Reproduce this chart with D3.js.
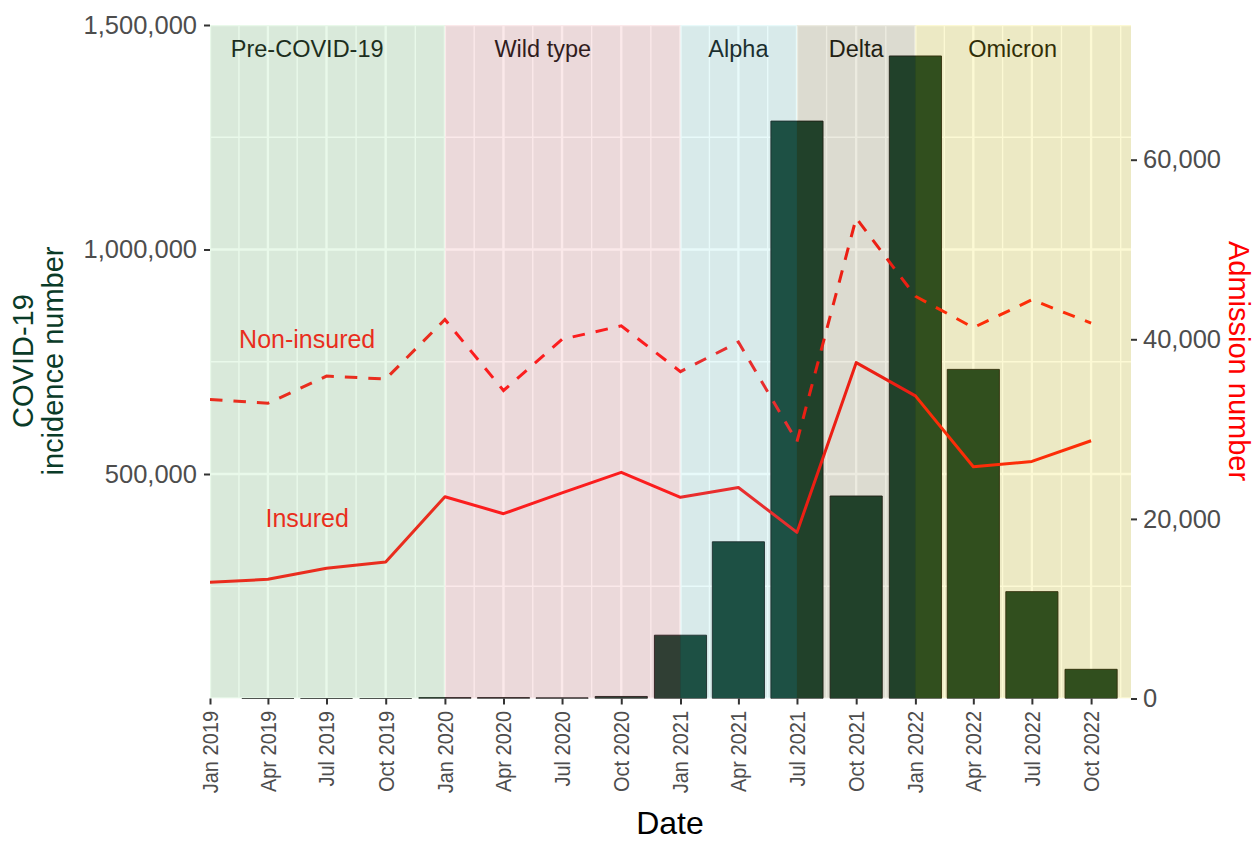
<!DOCTYPE html>
<html><head><meta charset="utf-8">
<script src="https://cdn.jsdelivr.net/npm/d3@7"></script>
<style>
body{margin:0;background:#fff}
text{font-family:"Liberation Sans",Arial,Helvetica,sans-serif}
</style>
</head><body>
<svg id="chart" width="1257" height="843"></svg>
<script>
// ---------- data ----------
const quarterDates = ["2019-01-01","2019-04-01","2019-07-01","2019-10-01","2020-01-01","2020-04-01","2020-07-01","2020-10-01",
  "2021-01-01","2021-04-01","2021-07-01","2021-10-01","2022-01-01","2022-04-01","2022-07-01","2022-10-01"];
const tickLabels = ["Jan 2019","Apr 2019","Jul 2019","Oct 2019","Jan 2020","Apr 2020","Jul 2020","Oct 2020",
  "Jan 2021","Apr 2021","Jul 2021","Oct 2021","Jan 2022","Apr 2022","Jul 2022","Oct 2022"];
// COVID-19 incidence number (left axis); first quarter falls outside the plotted range
const incidence = [null,0,0,0,2000,2000,1500,4500,141000,349000,1286000,451000,1431000,733000,238000,65000];
// Admission numbers (right axis)
const insured    = [12940,13270,14500,15200,22470,20580,22900,25190,22400,23500,18500,37400,33700,25800,26400,28700];
const nonInsured = [33300,32870,35900,35580,42200,34300,40000,41500,36400,39700,28600,53500,44800,41300,44400,41800];
// variant periods
const periodNames  = ["Pre-COVID-19","Wild type","Alpha","Delta","Omicron"];
const periodStarts = ["2019-01-01","2020-01-01","2021-01-01","2021-07-01","2022-01-01"];
const periodEnds   = ["2020-01-01","2021-01-01","2021-07-01","2022-01-01","2022-12-31"];
const periodLabelAt= ["2019-06-01","2020-06-01","2021-04-01","2021-10-01","2022-06-01"];
const periodColors = ["#91e196","#eb9196","#8ce6e6","#a09b64","#f0e128"];
const leftTicks  = [500000,1000000,1500000];
const rightTicks = [0,20000,40000,60000];
const seriesLabels = ["Insured","Non-insured"];
const seriesLabelAt = "2019-06-01";

// ---------- layout ----------
const parse = d3.timeParse("%Y-%m-%d");
const pl=210, pr=1131, pt=25, pb=698.5;
const svg = d3.select("#chart");
const x = d3.scaleTime().domain([parse("2019-01-01"), parse("2022-12-02")]).range([pl,pr]);
const y = d3.scaleLinear().domain([0,1500000]).range([pb,pt]);
const y2 = d3.scaleLinear().domain([0,75000]).range([pb,pt]);

svg.append("defs").append("clipPath").attr("id","panel")
  .append("rect").attr("x",pl).attr("y",pt).attr("width",pr-pl).attr("height",pb-pt);

const panel = svg.append("g").attr("clip-path","url(#panel)");
panel.append("rect").attr("x",pl).attr("y",pt).attr("width",pr-pl).attr("height",pb-pt).attr("fill","#ebebeb");

// grid
const qd = quarterDates.map(parse);
const ext = qd.concat([parse("2023-01-01")]);
const minorX = d3.range(ext.length-1).map(i => new Date((ext[i].getTime()+ext[i+1].getTime())/2));
panel.selectAll(".gxm").data(minorX).join("line")
  .attr("x1",d=>x(d)).attr("x2",d=>x(d)).attr("y1",pt).attr("y2",pb)
  .attr("stroke","#fff").attr("stroke-width",1.4);
panel.selectAll(".gxM").data(qd).join("line")
  .attr("x1",d=>x(d)).attr("x2",d=>x(d)).attr("y1",pt).attr("y2",pb)
  .attr("stroke","#fff").attr("stroke-width",2.4);
panel.selectAll(".gym").data([250000,750000,1250000]).join("line")
  .attr("x1",pl).attr("x2",pr).attr("y1",d=>y(d)).attr("y2",d=>y(d))
  .attr("stroke","#fff").attr("stroke-width",1.4);
panel.selectAll(".gyM").data([0,500000,1000000,1500000]).join("line")
  .attr("x1",pl).attr("x2",pr).attr("y1",d=>y(d)).attr("y2",d=>y(d))
  .attr("stroke","#fff").attr("stroke-width",2.4);

// bars (drawn as paths so zero-height bars still show their outline)
const barData = qd.map((d,i)=>({d, v:incidence[i]})).filter(o=>o.v!==null);
const bw = d => x(d3.timeDay.offset(d,81)) - x(d);
panel.selectAll(".bar").data(barData).join("path")
  .attr("d",o=>{
    const x0 = x(o.d)-bw(o.d)/2, x1 = x(o.d)+bw(o.d)/2, y0 = y(0), y1 = y(o.v);
    return `M${x0},${y0}V${y1}H${x1}V${y0}Z`;
  })
  .attr("fill","#022b1c").attr("stroke","#000").attr("stroke-width",0.9);

// lines
const line = d3.line().x((v,i)=>x(qd[i])).y(v=>y2(v));
panel.append("path").attr("d",line(insured)).attr("fill","none")
  .attr("stroke","#ff0000").attr("stroke-width",3).attr("stroke-linejoin","round");
panel.append("path").attr("d",line(nonInsured)).attr("fill","none")
  .attr("stroke","#ff0000").attr("stroke-width",3).attr("stroke-dasharray","12.5,11");

// line labels
panel.append("text").attr("x",x(parse(seriesLabelAt))).attr("y",526.7).attr("text-anchor","middle")
  .attr("font-size",25).attr("fill","#ff0000").text(seriesLabels[0]);
panel.append("text").attr("x",x(parse(seriesLabelAt))).attr("y",348.3).attr("text-anchor","middle")
  .attr("font-size",25).attr("fill","#ff0000").text(seriesLabels[1]);

// period labels
panel.selectAll(".plab").data(periodNames).join("text")
  .attr("x",(n,i)=>x(parse(periodLabelAt[i]))).attr("y",56.7).attr("text-anchor","middle")
  .attr("font-size",23.5).attr("fill","#000").text(n=>n);

// period overlay
panel.selectAll(".prect").data(periodNames).join("rect")
  .attr("x",(n,i)=>x(parse(periodStarts[i])))
  .attr("width",(n,i)=>x(parse(periodEnds[i]))-x(parse(periodStarts[i])))
  .attr("y",pt).attr("height",pb-pt)
  .attr("fill",(n,i)=>periodColors[i]).attr("fill-opacity",0.2);

// ---------- axes ----------
const fmt = d3.format(",");
const gL = svg.append("g").attr("transform",`translate(${pl},0)`)
  .call(d3.axisLeft(y).tickValues(leftTicks).tickFormat(fmt).tickSize(6).tickPadding(7));
const gR = svg.append("g").attr("transform",`translate(${pr},0)`)
  .call(d3.axisRight(y2).tickValues(rightTicks).tickFormat(fmt).tickSize(6).tickPadding(6));
const gB = svg.append("g").attr("transform",`translate(0,${pb})`)
  .call(d3.axisBottom(x).tickValues(qd).tickFormat((d,i)=>tickLabels[i]).tickSize(6));
[gL,gR,gB].forEach(g=>{
  g.select(".domain").remove();
  g.selectAll(".tick line").attr("stroke","#333").attr("stroke-width",2);
  g.selectAll(".tick text").attr("fill","#4d4d4d").attr("font-family",'"Liberation Sans",Arial,sans-serif');
});
gL.selectAll(".tick text").attr("font-size",25.5);
gR.selectAll(".tick text").attr("font-size",25.5);
gB.selectAll(".tick text").attr("font-size",20).attr("text-anchor","end")
  .attr("y",0).attr("dy",0).attr("x",0)
  .attr("transform","translate(7.5,12.5) scale(1.12,1) rotate(-90)");

// titles
svg.append("text").attr("text-anchor","middle").attr("font-size",32).attr("fill","#000")
  .attr("x",670).attr("y",834).text("Date");
const lt = svg.append("g").attr("transform","translate(0,361) rotate(-90)");
lt.append("text").attr("text-anchor","middle").attr("x",0).attr("y",33).attr("font-size",29).attr("fill","#0a3b28").text("COVID-19");
lt.append("text").attr("text-anchor","middle").attr("x",0).attr("y",63).attr("font-size",29).attr("fill","#0a3b28").text("incidence number");
svg.append("text").attr("text-anchor","middle").attr("font-size",29).attr("fill","#ff0000")
  .attr("transform","translate(1229,361) rotate(90)").text("Admission number");
</script>
</body></html>
